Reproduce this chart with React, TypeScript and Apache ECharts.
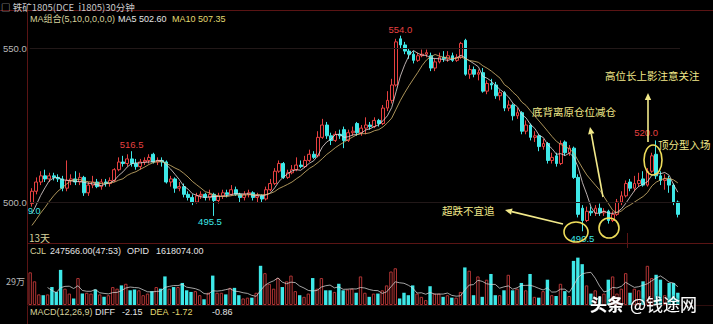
import React, { useEffect, useRef } from "react";
import * as echarts from "echarts";

// ---- data (30-minute bars, iron ore i1805) ----
const opens = [
  499.5, 503.5, 506.5, 508.5, 507.5, 508.5, 508, 507.5, 504.5, 507,
  507.5, 506.5, 508, 503, 505.5, 506.5, 505, 506.5, 506, 507,
  510.5, 513, 512.5, 514, 512.5, 511.5, 513, 513.5, 515.5, 513,
  513.5, 513, 506.5, 507.5, 504.5, 505, 502.5, 501.5, 500, 502,
  502.5, 501.5, 502.5, 500.5, 502, 503, 502.5, 504, 502.5, 501.5,
  502.5, 503, 501.5, 502, 501, 504, 506, 510, 512.5, 508,
  509.5, 510.5, 512, 511.5, 513.5, 515.5, 515, 521, 525, 521.5,
  520, 522, 523.5, 520, 522.5, 525.5, 522.5, 524, 525, 524.5,
  526.5, 525.5, 530.5, 533, 538, 553, 551, 549, 548, 546,
  547.5, 548, 547.5, 543.5, 545.5, 547, 546.5, 547.5, 546, 547,
  552.5, 541.5, 543, 541.5, 542, 536, 538.5, 538, 534.5, 535.5,
  530.5, 531.5, 528, 529, 523, 525, 521, 521.5, 518, 519,
  513.5, 515, 512.5, 519.5, 516, 517.5, 508, 498, 494, 497,
  496.5, 498, 496.5, 497, 494, 496, 500, 502, 506.5, 504.5,
  506, 507.5, 505.5, 510, 515.5, 508.5, 507, 507.5, 505.5, 500,
];
const closes = [
  503.5, 506.5, 508.5, 507.5, 508.5, 508, 507.5, 504.5, 507, 507.5,
  506.5, 508, 503, 505.5, 506.5, 505, 506.5, 506, 507, 510.5,
  513, 512.5, 514, 512.5, 511.5, 513, 513.5, 514.5, 513, 513.5,
  513, 506.5, 507.5, 504.5, 505, 502.5, 501.5, 500, 502, 502.5,
  501.5, 502.5, 500.5, 502, 503, 502.5, 504, 502.5, 501.5, 502.5,
  503, 501.5, 502, 501, 504, 506, 510, 512.5, 508, 509.5,
  510.5, 512, 511.5, 513.5, 515.5, 514.5, 521, 525, 521.5, 520,
  522, 521.5, 520, 522.5, 523, 522.5, 524, 525, 524.5, 526.5,
  525.5, 530.5, 533, 538, 552, 551, 549, 548, 546, 547.5,
  548, 548.5, 543.5, 545.5, 547, 546.5, 547.5, 546, 547, 551.5,
  541.5, 543, 541.5, 542, 536, 538.5, 538, 534.5, 535.5, 530.5,
  531.5, 528, 529, 523, 525, 521, 521.5, 518, 519, 513.5,
  514.5, 512.5, 519, 516, 517.5, 508, 496, 494, 497, 496.5,
  498, 496.5, 497, 494, 496, 500, 502, 506, 504.5, 506,
  507, 505.5, 510, 515, 508.5, 507, 507.5, 505.5, 500, 496,
];
const lows = [
  498.5, 502.5, 505.5, 506.5, 506.5, 507, 506.5, 503.5, 503.5, 505.5,
  505.5, 505.5, 502, 502, 504.5, 504.5, 504, 505, 505, 506.5,
  510, 511.5, 511.5, 511.5, 510.5, 510.5, 512, 512.5, 512.5, 512,
  511.5, 506, 505, 503, 503.5, 501.5, 500.5, 499, 499.5, 501,
  500.5, 500.5, 495.5, 499.5, 501, 501.5, 502, 502, 500, 500.5,
  501.5, 500.5, 500, 500, 500.5, 503.5, 505.5, 509.5, 507.5, 507.5,
  509, 510, 511, 511, 513, 514, 514.5, 520.5, 520.5, 518.5,
  519.5, 520.5, 517.5, 519.5, 521.5, 521.5, 521.5, 522, 523.5, 524,
  524.5, 525, 529.5, 532, 537.5, 550, 548, 546.5, 545, 545.5,
  547, 547, 542.5, 542.5, 545, 545.5, 545.5, 545.5, 545.5, 546.5,
  541, 540, 540.5, 539.5, 535.5, 535, 536.5, 533.5, 533, 529.5,
  529.5, 526.5, 527, 522, 522, 520, 519.5, 516.5, 517, 512.5,
  512.5, 511.5, 512, 515, 515, 507.5, 495, 490.5, 493.5, 495.5,
  495.5, 495.5, 495.5, 493, 493.5, 495.5, 499, 501.5, 503.5, 503.5,
  505, 505, 505, 509.5, 507.5, 505.5, 504, 503, 499, 495,
];
const highs = [
  504.5, 508, 510, 510.5, 509.5, 509.5, 509, 508.5, 513.5, 509,
  510, 509.5, 508.5, 506.5, 508.5, 507.5, 507.5, 507.5, 508, 511,
  514.5, 515, 515.5, 516.5, 514, 514, 514.5, 515.5, 516, 514.5,
  514.5, 513.5, 508.5, 508, 506.5, 506, 503.5, 502.5, 503, 503.5,
  503, 504, 503, 503, 504, 504, 505.5, 505, 503, 503.5,
  504, 503.5, 503, 502.5, 505, 507.5, 511, 513.5, 513, 510.5,
  512, 514.5, 513.5, 515, 517, 516.5, 523, 527, 526, 522.5,
  523, 523.5, 524.5, 523.5, 524.5, 526, 525, 527.5, 526, 527.5,
  527, 531.5, 536, 540, 553, 554, 552, 550, 549, 548.5,
  549.5, 549.5, 548.5, 546.5, 548.5, 549, 549, 548.5, 548, 552,
  553, 544.5, 544, 543, 543.5, 539.5, 540, 539, 536.5, 536,
  533, 532, 530.5, 529.5, 526.5, 525.5, 523, 522, 520.5, 519.5,
  516, 516, 520, 520, 518.5, 518, 509, 499, 498.5, 498.5,
  499, 499.5, 498, 497.5, 497, 501, 503.5, 507, 507.5, 508.5,
  509.5, 510, 511, 516, 520, 510, 509, 508.5, 506, 500.5,
];
// closes of the bars just before the visible window (feed the moving averages)
const priorCloses = [487, 488, 489.5, 488.5, 490, 492, 493.5, 495, 497];
// volume in units of 10,000 lots (万)
const volumes = [
  40, 29, 13, 12, 13, 22, 16, 43, 20, 14,
  8, 33, 14, 15, 14, 19, 13, 10, 12, 22,
  20, 24, 26, 18, 19, 18, 12, 14, 17, 22,
  20, 35, 20, 22, 22, 27, 18, 16, 17, 12,
  7, 15, 36, 15, 15, 13, 21, 21, 12, 8,
  9, 9, 15, 48, 39, 26, 20, 33, 22, 29,
  36, 17, 12, 10, 14, 33, 20, 33, 18, 18,
  16, 26, 18, 19, 20, 15, 35, 15, 10, 14,
  14, 18, 24, 41, 45, 8, 15, 12, 24, 14,
  10, 6, 23, 14, 14, 10, 12, 9, 9, 16,
  46, 42, 12, 35, 10, 31, 38, 12, 12, 18,
  37, 18, 20, 27, 18, 38, 10, 9, 17, 31,
  12, 11, 26, 17, 11, 54, 58, 50, 24, 14,
  18, 10, 14, 31, 35, 14, 20, 39, 15, 20,
  18, 29, 48, 33, 37, 31, 12, 27, 27, 15,
];
const priceTicks = [500, 550];
const volumeTicks = [29];
// marked extremes: bar indices
const highMarks = [23, 85, 144];
const lowMarks = [42, 127];

const RED = "#e64040";
const VRED = "#b03434";
const CYAN = "#3ee8e8";
const FRAME = "#5a1414";
const PALE = "#d6d29c";
const YEL = "#e2da70";
const WHITE = "#e4e4e4";
const NOTE = "#f2e98a";
const FONT = '"Liberation Sans", "Noto Sans CJK SC", sans-serif';
const CJK = '"Noto Sans CJK SC", "Liberation Sans", sans-serif';

function movingAverage(n: number, src: number[], prior: number[]) {
  const full = [...prior, ...src];
  const off = prior.length;
  return src.map((_, i) => {
    const end = i + off;
    if (end - n + 1 < 0) return null;
    let s = 0;
    for (let k = end - n + 1; k <= end; k++) s += full[k];
    return +(s / n).toFixed(2);
  });
}

function txt(x: number, y: number, text: string, fill: string, size: number, family = FONT, extra: any = {}) {
  return {
    type: "text",
    x,
    y,
    z: 100,
    style: { text, fill, fontSize: size, fontFamily: family, align: "left", verticalAlign: "middle", ...extra },
  };
}

function hline(x1: number, x2: number, y: number, color: string) {
  return { type: "line", z: 50, shape: { x1, y1: y, x2, y2: y }, style: { stroke: color, lineWidth: 1 } };
}

function arrow(x1: number, y1: number, x2: number, y2: number, color: string) {
  const dx = x2 - x1;
  const dy = y2 - y1;
  const len = Math.hypot(dx, dy);
  const ux = dx / len;
  const uy = dy / len;
  const hl = 7;
  const hw = 3.2;
  const bx = x2 - ux * hl;
  const by = y2 - uy * hl;
  return [
    { type: "line", z: 100, shape: { x1, y1, x2: bx, y2: by }, style: { stroke: color, lineWidth: 1.6 } },
    {
      type: "polygon",
      z: 100,
      shape: { points: [[x2, y2], [bx - uy * hw, by + ux * hw], [bx + uy * hw, by - ux * hw]] },
      style: { fill: color },
    },
  ];
}

function ring(cx: number, cy: number, rx: number, ry: number) {
  return { type: "ellipse", z: 100, shape: { cx, cy, rx, ry }, style: { fill: "transparent", stroke: "#eedc5a", lineWidth: 1.6 } };
}

export default function App() {
  const ref = useRef<HTMLDivElement>(null);

  useEffect(() => {
    if (!ref.current) return;
    const chart = echarts.init(ref.current, null, { renderer: "svg" });
    const cats = closes.map((_, i) => String(i));
    const ohlc = opens.map((o, i) => [o, closes[i], lows[i], highs[i]]);
    const ma5 = movingAverage(5, closes, priorCloses);
    const ma10 = movingAverage(10, closes, priorCloses);
    const vma = movingAverage(5, volumes, []);

    const markData: any[] = [
      ...highMarks.map((i) => ({
        coord: [i, highs[i]],
        value: highs[i],
        label: { position: "top", distance: i === 144 ? 3 : 1, color: RED, offset: i === 144 ? [-10, 0] : [0, 0] },
      })),
      ...lowMarks.map((i) => ({
        coord: [i, lows[i]],
        value: lows[i],
        label: { position: "bottom", distance: i === 127 ? 2 : 0, color: CYAN, offset: i === 42 ? [-4, 0] : [0, 0] },
      })),
    ];

    const graphics: any[] = [
      hline(0, 713, 10.5, FRAME),
      { type: "line", z: 50, shape: { x1: 27.5, y1: 10.5, x2: 27.5, y2: 324 }, style: { stroke: FRAME, lineWidth: 1 } },
      hline(27, 713, 243.5, FRAME),
      hline(27, 713, 305.5, "#2e0e0e"),
      { type: "line", z: 50, shape: { x1: 627.5, y1: 233, x2: 627.5, y2: 248 }, style: { stroke: FRAME, lineWidth: 1 } },
      txt(1, 6.5, "□ 铁矿1805(DCE  i1805)30分钟", "#c8c8c8", 9.5, CJK),
      txt(30, 18.5, "MA组合(5,10,0,0,0,0)", PALE, 9),
      txt(118, 18.5, "MA5 502.60", WHITE, 9),
      txt(172, 18.5, "MA10 507.35", YEL, 9),
      txt(28, 211, "9.0", CYAN, 9),
      txt(29, 237.5, "13天", PALE, 10, CJK),
      txt(30, 251, "CJL", PALE, 9),
      txt(50, 251, "247566.00(47:53)", WHITE, 9),
      txt(127, 251, "OPID", WHITE, 9),
      txt(156, 251, "1618074.00", WHITE, 9),
      txt(30, 312, "MACD(12,26,9)", PALE, 9),
      txt(95, 312, "DIFF", WHITE, 9),
      txt(122, 312, "-2.15", WHITE, 9),
      txt(150, 312, "DEA", YEL, 9),
      txt(172, 312, "-1.72", YEL, 9),
      txt(212, 312, "-0.86", WHITE, 9),
      txt(605, 75, "高位长上影注意关注", NOTE, 10.5, CJK),
      txt(532, 111, "底背离原仓位减仓", NOTE, 10.5, CJK),
      txt(658, 144, "顶分型入场", NOTE, 10.5, CJK),
      txt(442, 210, "超跌不宜追", NOTE, 10.5, CJK),
      ...arrow(648, 142, 648, 93, NOTE),
      ...arrow(603, 197, 590, 127, NOTE),
      ...arrow(563, 224, 505, 210, NOTE),
      ring(653, 160, 9, 15),
      ring(576, 232, 12, 10),
      ring(609, 228, 10, 10),
      txt(590, 303, "头条", "#ffffff", 17, CJK, {
        fontWeight: "bold",
        textShadowColor: "rgba(0,0,0,0.9)",
        textShadowBlur: 3,
      }),
      txt(630, 303, "@钱途网", "#ffffff", 17, CJK, {
        textShadowColor: "rgba(0,0,0,0.9)",
        textShadowBlur: 3,
      }),
    ];

    chart.setOption({
      animation: false,
      backgroundColor: "#000000",
      grid: [
        { left: 28, right: 33, top: 24, height: 219 },
        { left: 28, right: 33, top: 256, height: 49 },
      ],
      xAxis: [
        { type: "category", gridIndex: 0, data: cats, show: false },
        { type: "category", gridIndex: 1, data: cats, show: false },
      ],
      yAxis: [
        {
          type: "value",
          gridIndex: 0,
          min: 486.7,
          max: 557.8,
          axisLine: { show: false },
          axisTick: { show: false },
          splitLine: { show: false },
          axisLabel: {
            customValues: priceTicks,
            formatter: (v: number) => v.toFixed(1),
            color: "#b8b8b8",
            fontSize: 9.5,
            fontFamily: FONT,
            margin: 3,
          },
        },
        {
          type: "value",
          gridIndex: 1,
          min: 0,
          max: 60,
          axisLine: { show: false },
          axisTick: { show: false },
          splitLine: { show: false },
          axisLabel: {
            customValues: volumeTicks,
            formatter: (v: number) => v + "万",
            color: "#b8b8b8",
            fontSize: 9,
            fontFamily: CJK,
            margin: 3,
          },
        },
      ],
      series: [
        {
          type: "candlestick",
          xAxisIndex: 0,
          yAxisIndex: 0,
          data: ohlc,
          barWidth: "76%",
          itemStyle: { color: "transparent", color0: CYAN, borderColor: RED, borderColor0: CYAN, borderWidth: 1 },
          markLine: {
            silent: true,
            symbol: "none",
            label: { show: false },
            lineStyle: { color: "#221818", width: 1, type: "solid" },
            data: priceTicks.map((v) => ({ yAxis: v })),
          },
          markPoint: {
            symbol: "rect",
            symbolSize: 1,
            itemStyle: { color: "transparent" },
            label: {
              show: true,
              fontSize: 9.5,
              fontFamily: FONT,
              formatter: (p: any) => Number(p.value).toFixed(1),
            },
            data: markData,
          },
        },
        {
          type: "line",
          xAxisIndex: 0,
          yAxisIndex: 0,
          data: ma5,
          showSymbol: false,
          lineStyle: { color: "#e6dada", width: 1, opacity: 0.8 },
        },
        {
          type: "line",
          xAxisIndex: 0,
          yAxisIndex: 0,
          data: ma10,
          showSymbol: false,
          lineStyle: { color: "#d6b870", width: 1, opacity: 0.8 },
        },
        {
          type: "bar",
          xAxisIndex: 1,
          yAxisIndex: 1,
          barWidth: "78%",
          data: volumes.map((v, i) => ({
            value: v,
            itemStyle:
              closes[i] >= opens[i]
                ? { color: "transparent", borderColor: VRED, borderWidth: 1 }
                : { color: CYAN },
          })),
        },
        {
          type: "line",
          xAxisIndex: 1,
          yAxisIndex: 1,
          data: vma,
          showSymbol: false,
          lineStyle: { color: "#d8d8d8", width: 1, opacity: 0.75 },
        },
      ],
      graphic: graphics,
    });

    return () => chart.dispose();
  }, []);

  return (
    <div
      ref={ref}
      style={{ position: "fixed", left: 0, top: 0, width: 713, height: 324, background: "#000" }}
    />
  );
}
